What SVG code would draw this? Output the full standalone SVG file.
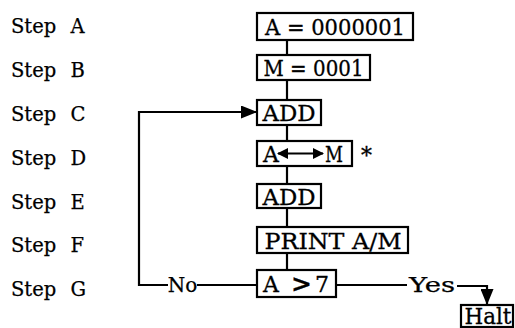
<svg xmlns="http://www.w3.org/2000/svg" width="515" height="328" viewBox="0 0 515 328">
<style>
.box{fill:#fff;stroke:#000;stroke-width:2.2}
.t{font-family:"DejaVu Serif","Liberation Serif",serif;font-size:22px;fill:#000;stroke:#000;stroke-width:0.3}
.c{text-anchor:middle}
.step{font-family:"DejaVu Serif","Liberation Serif",serif;font-size:19.5px;fill:#000;stroke:#000;stroke-width:0.25;word-spacing:8px}
.ln{fill:none;stroke:#000;stroke-width:2.2}
.lbl{font-family:"DejaVu Serif","Liberation Serif",serif;font-size:20px;fill:#000;stroke:#000;stroke-width:0.25}
</style>
<defs>
<marker id="ah" markerUnits="userSpaceOnUse" markerWidth="16" markerHeight="13" refX="16" refY="6.5" orient="auto">
<polygon points="0,0 16,6.5 0,13" fill="#000"/>
</marker>
<marker id="sh" markerUnits="userSpaceOnUse" markerWidth="11" markerHeight="11" refX="10" refY="5.5" orient="auto-start-reverse">
<polygon points="0,0 11,5.5 0,11" fill="#000"/>
</marker>
</defs>
<rect width="515" height="328" fill="#fff"/>
<g id="steps">
<text class="step" x="11" y="33">Step A</text>
<text class="step" x="11" y="77">Step B</text>
<text class="step" x="11" y="121">Step C</text>
<text class="step" x="11" y="165">Step D</text>
<text class="step" x="11" y="209">Step E</text>
<text class="step" x="11" y="252">Step F</text>
<text class="step" x="11" y="296">Step G</text>
</g>
<g id="connectors">
<line class="ln" x1="287" y1="40" x2="287" y2="55"/>
<line class="ln" x1="287" y1="80" x2="287" y2="100"/>
<line class="ln" x1="287" y1="125" x2="287" y2="141"/>
<line class="ln" x1="287" y1="166" x2="287" y2="184"/>
<line class="ln" x1="287" y1="208" x2="287" y2="227"/>
<line class="ln" x1="287" y1="253" x2="287" y2="270"/>
<line class="ln" x1="257" y1="285" x2="197" y2="285"/>
<path class="ln" d="M168,285 H139 V112 H257" marker-end="url(#ah)"/>
<text class="lbl" x="182.5" y="292" text-anchor="middle">No</text>
<line class="ln" x1="336" y1="285" x2="407" y2="285"/>
<text class="lbl" x="432" y="292" text-anchor="middle" textLength="46" lengthAdjust="spacingAndGlyphs">Yes</text>
<path class="ln" d="M457,286 H487 V305" marker-end="url(#ah)"/>
</g>
<g id="stepA">
<rect class="box" x="257" y="13" width="156" height="27"/>
<text class="t c" x="335" y="35" textLength="140" lengthAdjust="spacingAndGlyphs">A = 0000001</text>
</g>
<g id="stepB">
<rect class="box" x="257" y="55" width="113" height="25"/>
<text class="t c" x="313.5" y="76" textLength="100" lengthAdjust="spacingAndGlyphs">M = 0001</text>
</g>
<g id="stepC">
<rect class="box" x="257" y="100" width="64" height="25"/>
<text class="t c" x="289" y="121" textLength="53" lengthAdjust="spacingAndGlyphs">ADD</text>
</g>
<g id="stepD">
<rect class="box" x="257" y="141" width="95" height="25"/>
<text class="t" x="263" y="162">A</text>
<line x1="278" y1="153.5" x2="323" y2="153.5" stroke="#000" stroke-width="2" marker-start="url(#sh)" marker-end="url(#sh)"/>
<text class="t" x="325" y="162" textLength="18" lengthAdjust="spacingAndGlyphs">M</text>
<text class="t" x="361" y="163">*</text>
</g>
<g id="stepE">
<rect class="box" x="257" y="184" width="64" height="24"/>
<text class="t c" x="289" y="205" textLength="53" lengthAdjust="spacingAndGlyphs">ADD</text>
</g>
<g id="stepF">
<rect class="box" x="257" y="227" width="151" height="26"/>
<text class="t c" x="333" y="249" textLength="137" lengthAdjust="spacingAndGlyphs">PRINT A/M</text>
</g>
<g id="stepG">
<rect class="box" x="257" y="270" width="79" height="27"/>
<text class="t" x="263" y="292">A <tspan x="291" font-weight="bold" font-size="25">&gt;</tspan><tspan x="315">7</tspan></text>
</g>
<g id="halt">
<rect class="box" x="461" y="305" width="52" height="22"/>
<text class="t c" x="488" y="324" font-size="19" textLength="47" lengthAdjust="spacingAndGlyphs">Halt</text>
</g>
</svg>
